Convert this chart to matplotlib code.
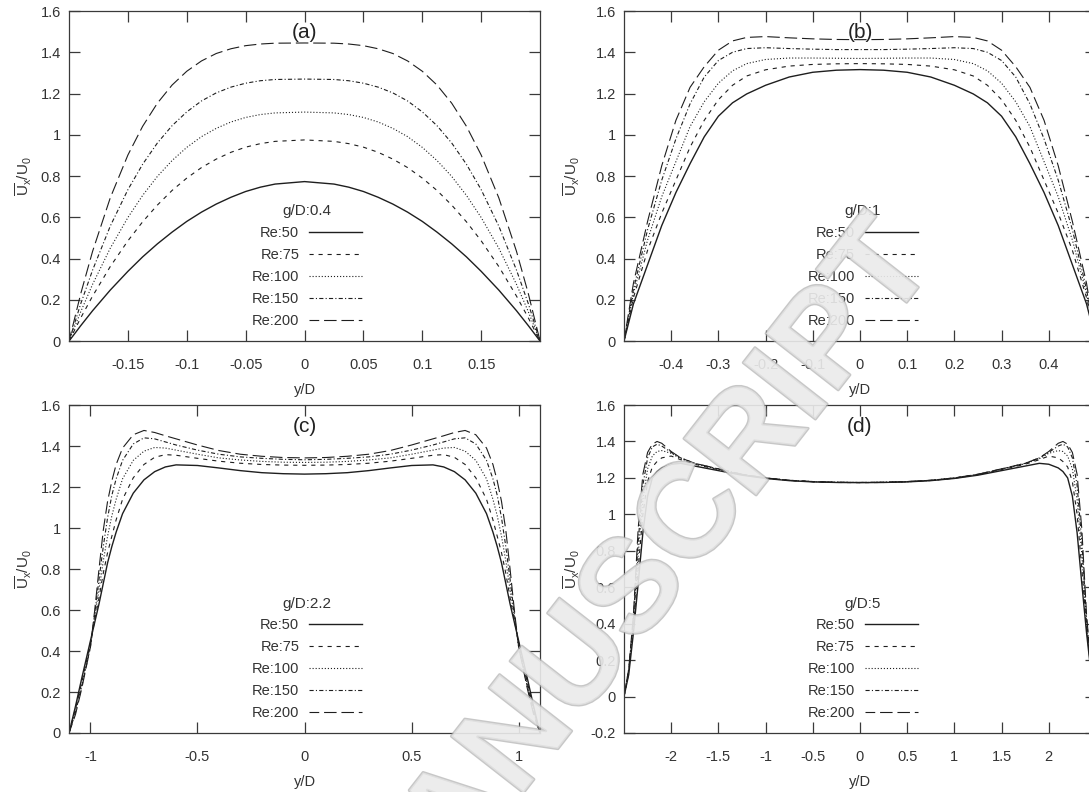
import matplotlib
matplotlib.use("Agg")
import matplotlib.pyplot as plt
import matplotlib.patheffects as pe
from matplotlib.ticker import FormatStrFormatter

plt.rcParams['font.family'] = ['Liberation Sans', 'DejaVu Sans']
plt.rcParams['mathtext.fontset'] = 'custom'
plt.rcParams['mathtext.rm'] = 'Liberation Sans'
plt.rcParams['mathtext.it'] = 'Liberation Sans'
plt.rcParams['lines.scale_dashes'] = False

# ---------------- data ----------------
re_labels = ["Re:50", "Re:75", "Re:100", "Re:150", "Re:200"]
gap_titles = ["g/D:0.4", "g/D:1", "g/D:2.2", "g/D:5"]
panel_tags = ["(a)", "(b)", "(c)", "(d)"]

# (a) g/D = 0.4
xa = [-0.2, -0.19, -0.18, -0.165, -0.15, -0.1375, -0.125, -0.1125, -0.1, -0.0875, -0.075, -0.0625,
      -0.05, -0.0375, -0.025, 0, 0.025, 0.0375, 0.05, 0.0625, 0.075, 0.0875, 0.1, 0.1125, 0.125,
      0.1375, 0.15, 0.165, 0.18, 0.19, 0.2]
a_re50 = [0, 0.075, 0.147, 0.247, 0.338, 0.408, 0.471, 0.528, 0.580, 0.625, 0.664, 0.697,
          0.725, 0.746, 0.761, 0.773, 0.761, 0.746, 0.725, 0.697, 0.664, 0.625, 0.580, 0.528, 0.471,
          0.408, 0.338, 0.247, 0.147, 0.075, 0]
a_re75 = [0, 0.113, 0.218, 0.361, 0.486, 0.578, 0.659, 0.730, 0.790, 0.841, 0.882, 0.915,
          0.940, 0.957, 0.968, 0.975, 0.968, 0.957, 0.940, 0.915, 0.882, 0.841, 0.790, 0.730, 0.659,
          0.578, 0.486, 0.361, 0.218, 0.113, 0]
a_re100 = [0, 0.143, 0.275, 0.450, 0.599, 0.706, 0.798, 0.875, 0.939, 0.991, 1.031, 1.062,
           1.084, 1.098, 1.106, 1.110, 1.106, 1.098, 1.084, 1.062, 1.031, 0.991, 0.939, 0.875, 0.798,
           0.706, 0.599, 0.450, 0.275, 0.143, 0]
a_re150 = [0, 0.182, 0.344, 0.557, 0.734, 0.857, 0.960, 1.044, 1.111, 1.164, 1.203, 1.231,
           1.250, 1.262, 1.268, 1.270, 1.268, 1.262, 1.250, 1.231, 1.203, 1.164, 1.111, 1.044, 0.960,
           0.857, 0.734, 0.557, 0.344, 0.182, 0]
a_re200 = [0, 0.231, 0.435, 0.694, 0.902, 1.041, 1.153, 1.241, 1.308, 1.358, 1.394, 1.417,
           1.432, 1.440, 1.444, 1.445, 1.444, 1.440, 1.432, 1.417, 1.394, 1.358, 1.308, 1.241, 1.153,
           1.041, 0.902, 0.694, 0.435, 0.231, 0]

# (b) g/D = 1
xb = [-0.5, -0.48, -0.45, -0.42, -0.39, -0.36, -0.33, -0.3, -0.27, -0.24, -0.2, -0.15, -0.1, -0.05, 0,
      0.05, 0.1, 0.15, 0.2, 0.24, 0.27, 0.3, 0.33, 0.36, 0.39, 0.42, 0.45, 0.48, 0.5]
b_re50 = [0, 0.18, 0.37, 0.56, 0.72, 0.86, 0.99, 1.09, 1.155, 1.198, 1.24, 1.28, 1.303, 1.313, 1.316,
          1.313, 1.303, 1.28, 1.24, 1.198, 1.155, 1.09, 0.99, 0.86, 0.72, 0.56, 0.37, 0.18, 0]
b_re75 = [0, 0.21, 0.44, 0.62, 0.78, 0.94, 1.07, 1.17, 1.24, 1.285, 1.315, 1.333, 1.341, 1.344, 1.345,
          1.344, 1.341, 1.333, 1.315, 1.285, 1.24, 1.17, 1.07, 0.94, 0.78, 0.62, 0.44, 0.21, 0]
b_re100 = [0, 0.23, 0.49, 0.70, 0.87, 1.04, 1.16, 1.25, 1.31, 1.345, 1.365, 1.372, 1.372, 1.371, 1.370,
           1.371, 1.372, 1.372, 1.365, 1.345, 1.31, 1.25, 1.16, 1.04, 0.87, 0.70, 0.49, 0.23, 0]
b_re150 = [0, 0.25, 0.54, 0.78, 0.98, 1.15, 1.28, 1.36, 1.40, 1.418, 1.422, 1.418, 1.415, 1.413, 1.413,
           1.413, 1.415, 1.418, 1.422, 1.418, 1.40, 1.36, 1.28, 1.15, 0.98, 0.78, 0.54, 0.25, 0]
b_re200 = [0, 0.28, 0.58, 0.85, 1.07, 1.23, 1.33, 1.41, 1.455, 1.472, 1.476, 1.47, 1.465, 1.462, 1.461,
           1.462, 1.465, 1.47, 1.476, 1.472, 1.455, 1.41, 1.33, 1.23, 1.07, 0.85, 0.58, 0.28, 0]

# (c) g/D = 2.2
xc = [-1.1, -1.07, -1.04, -1.0, -0.98, -0.96, -0.94, -0.92, -0.9, -0.88, -0.85, -0.8, -0.75, -0.7,
      -0.65, -0.6, -0.5, -0.4, -0.3, -0.2, -0.1, 0, 0.1, 0.2, 0.3, 0.4, 0.5, 0.6, 0.65, 0.7, 0.75,
      0.8, 0.85, 0.88, 0.9, 0.92, 0.94, 0.96, 0.98, 1.0, 1.04, 1.07, 1.1]
c_re50 = [0, 0.13, 0.27, 0.45, 0.54, 0.63, 0.73, 0.83, 0.91, 0.98, 1.07, 1.17, 1.235, 1.275,
          1.298, 1.308, 1.305, 1.293, 1.28, 1.27, 1.265, 1.263, 1.265, 1.27, 1.28, 1.293, 1.305, 1.308,
          1.298, 1.275, 1.235, 1.17, 1.07, 0.98, 0.91, 0.83, 0.73, 0.63, 0.54, 0.45, 0.27, 0.13, 0]
c_re75 = [0, 0.12, 0.25, 0.44, 0.55, 0.66, 0.78, 0.88, 0.96, 1.04, 1.14, 1.245, 1.31, 1.345,
          1.358, 1.355, 1.34, 1.326, 1.316, 1.31, 1.307, 1.306, 1.307, 1.31, 1.316, 1.326, 1.34, 1.355,
          1.358, 1.345, 1.31, 1.245, 1.14, 1.04, 0.96, 0.88, 0.78, 0.66, 0.55, 0.44, 0.25, 0.12, 0]
c_re100 = [0, 0.11, 0.24, 0.43, 0.57, 0.70, 0.84, 0.96, 1.06, 1.14, 1.24, 1.33, 1.375, 1.393,
           1.39, 1.38, 1.36, 1.342, 1.332, 1.325, 1.321, 1.32, 1.321, 1.325, 1.332, 1.342, 1.36, 1.38,
           1.39, 1.393, 1.375, 1.33, 1.24, 1.14, 1.06, 0.96, 0.84, 0.70, 0.57, 0.43, 0.24, 0.11, 0]
c_re150 = [0, 0.10, 0.23, 0.42, 0.58, 0.75, 0.91, 1.05, 1.16, 1.24, 1.33, 1.41, 1.44, 1.435,
           1.42, 1.405, 1.38, 1.36, 1.347, 1.34, 1.335, 1.333, 1.335, 1.34, 1.347, 1.36, 1.38, 1.405,
           1.42, 1.435, 1.44, 1.41, 1.33, 1.24, 1.16, 1.05, 0.91, 0.75, 0.58, 0.42, 0.23, 0.10, 0]
c_re200 = [0, 0.09, 0.22, 0.42, 0.60, 0.80, 0.99, 1.13, 1.23, 1.31, 1.39, 1.455, 1.476, 1.466,
           1.45, 1.435, 1.405, 1.378, 1.36, 1.35, 1.344, 1.342, 1.344, 1.35, 1.36, 1.378, 1.405, 1.435,
           1.45, 1.466, 1.476, 1.455, 1.39, 1.31, 1.23, 1.13, 0.99, 0.80, 0.60, 0.42, 0.22, 0.09, 0]

# (d) g/D = 5
xd = [-2.5, -2.45, -2.4, -2.35, -2.3, -2.25, -2.2, -2.15, -2.1, -2.0, -1.9, -1.75, -1.5, -1.25,
      -1.0, -0.75, -0.5, -0.25, 0, 0.25, 0.5, 0.75, 1.0, 1.25, 1.5, 1.75, 1.9, 2.0, 2.1, 2.15,
      2.2, 2.25, 2.3, 2.35, 2.4, 2.45, 2.5]
d_re50 = [0, 0.12, 0.35, 0.62, 0.90, 1.10, 1.20, 1.235, 1.255, 1.275, 1.28, 1.265, 1.24, 1.215,
          1.197, 1.185, 1.178, 1.175, 1.174, 1.175, 1.178, 1.185, 1.197, 1.215, 1.24, 1.265, 1.28,
          1.275, 1.255, 1.235, 1.20, 1.10, 0.90, 0.62, 0.35, 0.12, 0]
d_re75 = [0, 0.13, 0.38, 0.70, 1.0, 1.18, 1.26, 1.29, 1.31, 1.32, 1.30, 1.275, 1.245, 1.218,
          1.198, 1.186, 1.179, 1.175, 1.174, 1.175, 1.179, 1.186, 1.198, 1.218, 1.245, 1.275, 1.30,
          1.32, 1.31, 1.29, 1.26, 1.18, 1.0, 0.70, 0.38, 0.13, 0]
d_re100 = [0, 0.14, 0.40, 0.78, 1.08, 1.25, 1.32, 1.345, 1.35, 1.335, 1.305, 1.278, 1.247, 1.219,
           1.199, 1.186, 1.179, 1.176, 1.175, 1.176, 1.179, 1.186, 1.199, 1.219, 1.247, 1.278, 1.305,
           1.335, 1.35, 1.345, 1.32, 1.25, 1.08, 0.78, 0.40, 0.14, 0]
d_re150 = [0, 0.15, 0.43, 0.85, 1.16, 1.31, 1.37, 1.385, 1.375, 1.34, 1.31, 1.28, 1.249, 1.22,
           1.2, 1.187, 1.18, 1.176, 1.175, 1.176, 1.18, 1.187, 1.2, 1.22, 1.249, 1.28, 1.31,
           1.34, 1.375, 1.385, 1.37, 1.31, 1.16, 0.85, 0.43, 0.15, 0]
d_re200 = [0, 0.15, 0.45, 0.92, 1.22, 1.34, 1.385, 1.40, 1.39, 1.345, 1.31, 1.28, 1.25, 1.22,
           1.2, 1.187, 1.18, 1.176, 1.175, 1.176, 1.18, 1.187, 1.2, 1.22, 1.25, 1.28, 1.31,
           1.345, 1.39, 1.40, 1.385, 1.34, 1.22, 0.92, 0.45, 0.15, 0]

x_ticks_a = [-0.15, -0.1, -0.05, 0, 0.05, 0.1, 0.15]
x_ticks_b = [-0.4, -0.3, -0.2, -0.1, 0, 0.1, 0.2, 0.3, 0.4]
x_ticks_c = [-1, -0.5, 0, 0.5, 1]
x_ticks_d = [-2, -1.5, -1, -0.5, 0, 0.5, 1, 1.5, 2]
y_ticks_abc = [0, 0.2, 0.4, 0.6, 0.8, 1, 1.2, 1.4, 1.6]
y_ticks_d = [-0.2, 0, 0.2, 0.4, 0.6, 0.8, 1, 1.2, 1.4, 1.6]

panels = [
    (xa, [a_re50, a_re75, a_re100, a_re150, a_re200], (-0.2, 0.2), (0, 1.6), x_ticks_a, y_ticks_abc),
    (xb, [b_re50, b_re75, b_re100, b_re150, b_re200], (-0.5, 0.5), (0, 1.6), x_ticks_b, y_ticks_abc),
    (xc, [c_re50, c_re75, c_re100, c_re150, c_re200], (-1.1, 1.1), (0, 1.6), x_ticks_c, y_ticks_abc),
    (xd, [d_re50, d_re75, d_re100, d_re150, d_re200], (-2.5, 2.5), (-0.2, 1.6), x_ticks_d, y_ticks_d),
]

# line styles: solid, short dash, dotted, dash-dot, long dash
styles = ['-', (0, (3, 3.5)), (0, (0.8, 1.4)), (0, (3, 1.6, 0.8, 1.6)), (2, (9, 3.5))]
widths = [1.0, 0.8, 0.8, 0.8, 0.8]
ink = '#1e1e1e'
axis_col = '#3a3a3a'

# axes rectangles in figure fractions (right column runs past the page edge)
rects = [
    (0.0634, 0.5694, 0.4325, 0.4167),
    (0.5730, 0.5694, 0.4334, 0.4167),
    (0.0634, 0.0745, 0.4325, 0.4141),
    (0.5730, 0.0745, 0.4334, 0.4141),
]

fig = plt.figure(figsize=(10.89, 7.92), dpi=100)

for i, (x, series, xlim, ylim, xt, yt) in enumerate(panels):
    ax = fig.add_axes(rects[i])
    for y, lab, ls, lw in zip(series, re_labels, styles, widths):
        ax.plot(x, y, linestyle=ls, linewidth=lw, color=ink, label=lab)

    ax.set_xlim(*xlim)
    ax.set_ylim(*ylim)
    ax.set_xticks(xt)
    ax.set_yticks(yt)
    ax.xaxis.set_major_formatter(FormatStrFormatter('%g'))
    ax.yaxis.set_major_formatter(FormatStrFormatter('%g'))
    ax.tick_params(direction='in', length=8, width=0.9, color=axis_col,
                   top=True, right=True, labelsize=10.5, labelcolor='#333333')
    ax.tick_params(axis='x', pad=12)
    ax.tick_params(axis='y', pad=6)
    for sp in ax.spines.values():
        sp.set_color(axis_col)
        sp.set_linewidth(0.9)

    ax.set_xlabel('y/D', fontsize=10.5, color='#333333')
    ax.set_ylabel(r'$\overline{\mathrm{U}}_{\mathrm{x}}/\mathrm{U}_{0}$', fontsize=11, color='#333333')
    ax.xaxis.set_label_coords(0.5, -0.127)
    if i % 2 == 0:
        ax.yaxis.set_label_coords(-0.075, 0.5)
    else:
        ax.yaxis.set_label_coords(-0.088, 0.5)

    ax.text(0.5, 0.936, panel_tags[i], transform=ax.transAxes, ha='center', va='center',
            fontsize=15, color='#222222')

    leg = ax.legend(title=gap_titles[i], markerfirst=False, frameon=False,
                    loc='lower right', bbox_to_anchor=(0.622, 0.04),
                    borderpad=0, borderaxespad=0, handlelength=3.6, handletextpad=0.7,
                    labelspacing=0.54, fontsize=10.5, title_fontsize=11)
    for t in leg.get_texts():
        t.set_color('#333333')
    leg.get_title().set_color('#333333')

# journal watermark lying over the figure
fig.text(0.836, 0.695, 'ACCEPTED MANUSCRIPT', rotation=52, rotation_mode='anchor',
         ha='right', va='center', fontsize=96, fontweight='bold', color='#ebebeb',
         alpha=0.7, zorder=10,
         path_effects=[pe.withStroke(linewidth=2.0, foreground='#b0b0b0')])

fig.savefig('out.png', dpi=100)
